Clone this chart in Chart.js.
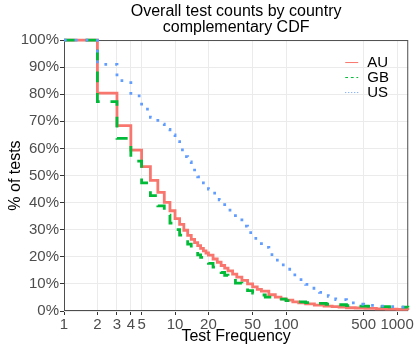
<!DOCTYPE html>
<html>
<head>
<meta charset="utf-8">
<script src="https://cdn.jsdelivr.net/npm/chart.js@4.4.1/dist/chart.umd.min.js"></script>
<style>
  html, body { margin: 0; padding: 0; background: #fff; }
</style>
</head>
<body>
<canvas id="chart" width="415" height="349"></canvas>
<script>
const FONT = '"Liberation Sans", Arial, Helvetica, sans-serif';

const countries = ['AU', 'GB', 'US'];
const xTicks = [1, 2, 3, 4, 5, 10, 20, 50, 100, 500, 1000];

// complementary CDF, % of tests with at least this many test counts
const auFreq = [1, 2, 3, 4, 5, 6, 7, 8, 9, 10, 11, 12, 13, 14, 15, 16, 17, 18, 19, 20, 22, 24, 26, 28, 30, 33, 36, 40, 45, 50, 55, 60, 70, 80, 90, 100, 115, 130, 150, 180, 220, 260, 300, 350, 420, 520, 650, 800, 1000, 1250];
const auPct = [100, 80.4, 68.4, 59.4, 53.3, 48.2, 43.8, 40.1, 37.0, 34.1, 32.0, 29.8, 27.9, 26.4, 25.2, 24.1, 23.1, 22.2, 21.4, 20.6, 19.2, 18.0, 16.8, 15.8, 14.8, 13.6, 12.5, 11.3, 10.0, 8.9, 8.0, 7.3, 6.0, 5.1, 4.5, 4.0, 3.4, 3.0, 2.6, 2.2, 1.8, 1.6, 1.4, 1.2, 1.1, 1.0, 0.8, 0.7, 0.6, 0.4];

const gbFreq = [1, 2, 3, 4, 5, 6, 7, 8, 9, 10, 11, 12, 13, 14, 15, 16, 17, 18, 19, 20, 22, 24, 26, 28, 30, 35, 40, 45, 50, 57, 65, 80, 100, 120, 150, 180, 230, 280, 350, 420, 550, 680, 850, 1030, 1250];
const gbPct = [100, 77.3, 63.7, 55.3, 47.3, 42.6, 38.8, 35.4, 32.4, 30.0, 28.0, 26.5, 24.7, 23.3, 22.0, 20.7, 19.8, 19.0, 18.3, 17.6, 16.2, 15.3, 14.2, 13.2, 12.2, 10.3, 8.6, 7.5, 6.6, 5.9, 5.1, 4.4, 3.8, 3.4, 3.1, 2.8, 2.5, 2.3, 2.0, 1.8, 1.7, 1.6, 1.5, 1.4, 1.3];

const usFreq = [1, 2, 3, 4, 5, 6, 7, 8, 9, 10, 11, 12, 13, 14, 15, 16, 18, 20, 22, 25, 28, 30, 35, 40, 45, 50, 60, 70, 80, 90, 100, 115, 130, 150, 170, 200, 240, 280, 350, 420, 500, 650, 800, 1000, 1250];
const usPct = [100, 91, 85, 79.4, 74.5, 71.5, 69, 67, 65, 62.5, 59.5, 57, 55, 53, 51, 49.5, 47.3, 45, 43.5, 41, 38.7, 37.2, 34.2, 31.3, 28.9, 26.8, 23.5, 20.8, 18.8, 17, 15.4, 13.3, 11.6, 9.8, 8.4, 6.9, 5.4, 4.2, 3.0, 2.5, 2.1, 1.8, 1.6, 1.4, 1.2];

const colors = ['#F8766D', '#00BA38', '#619CFF'];
const lineDashes = [[], [10.8, 10.8], [2.7, 8.1]];
const keyDashes = [[], [2.8, 2.8], [1, 2]];

const toPoints = (xs, ys) => xs.map((x, i) => ({ x, y: ys[i] }));
const series = [toPoints(auFreq, auPct), toPoints(gbFreq, gbPct), toPoints(usFreq, usPct)];

// grey box round the panel, under the lines
const panelBorder = {
  id: 'panelBorder',
  beforeDatasetsDraw(chart) {
    const { ctx, chartArea: a } = chart;
    ctx.save();
    ctx.strokeStyle = '#4D4D4D';
    ctx.lineWidth = 1;
    ctx.strokeRect(a.left + 0.5, a.top + 0.5, a.right - a.left - 1, a.bottom - a.top - 1);
    ctx.restore();
  }
};

// ggplot style legend inside the panel, top right
const insideLegend = {
  id: 'insideLegend',
  afterDatasetsDraw(chart) {
    const { ctx, chartArea: a } = chart;
    ctx.save();
    ctx.font = '15px ' + FONT;
    ctx.textBaseline = 'middle';
    ctx.textAlign = 'left';
    countries.forEach((name, i) => {
      const y = a.top + 22.5 + i * 15;
      ctx.strokeStyle = colors[i];
      ctx.lineWidth = 1;
      ctx.setLineDash(keyDashes[i]);
      ctx.beginPath();
      ctx.moveTo(a.right - 63, y);
      ctx.lineTo(a.right - 50, y);
      ctx.stroke();
      ctx.setLineDash([]);
      ctx.fillStyle = '#000';
      ctx.fillText(name, a.right - 41, y);
    });
    ctx.restore();
  }
};

new Chart(document.getElementById('chart'), {
  type: 'line',
  data: {
    datasets: countries.map((name, i) => ({
      label: name,
      data: series[i],
      borderColor: colors[i],
      borderWidth: 2.8,
      borderDash: lineDashes[i],
      borderCapStyle: 'butt',
      borderJoinStyle: 'miter',
      stepped: 'before',
      pointRadius: 0,
      fill: false,
      clip: 4,
      order: 2 - i
    }))
  },
  options: {
    responsive: false,
    animation: false,
    devicePixelRatio: 1,
    layout: { padding: { top: 0, right: 5, bottom: 0, left: 0 } },
    plugins: {
      legend: { display: false },
      tooltip: { enabled: false },
      title: {
        display: true,
        fullSize: false,
        text: ['Overall test counts by country', 'complementary CDF'],
        color: '#000',
        font: { family: FONT, size: 16, weight: 'normal', lineHeight: 1.02 },
        padding: { top: 3.5, bottom: 3.9 }
      }
    },
    scales: {
      x: {
        type: 'logarithmic',
        min: 1,
        max: 1260,
        afterBuildTicks: axis => { axis.ticks = xTicks.map(v => ({ value: v })); },
        afterFit: axis => { axis.height = 38; },
        ticks: {
          autoSkip: false,
          maxRotation: 0,
          padding: 1,
          color: '#4D4D4D',
          font: { family: FONT, size: 15 },
          callback: v => String(v)
        },
        grid: { color: '#EBEBEB', lineWidth: 1, tickColor: '#333', tickLength: 4 },
        border: { display: false },
        title: {
          display: true,
          text: 'Test Frequency',
          color: '#000',
          font: { family: FONT, size: 16 },
          padding: { top: 0, bottom: 3 }
        }
      },
      y: {
        min: 0,
        max: 100,
        afterFit: axis => { axis.width = 64; },
        ticks: {
          stepSize: 10,
          padding: 1,
          color: '#4D4D4D',
          font: { family: FONT, size: 15 },
          callback: v => v + '%'
        },
        grid: { color: '#EBEBEB', lineWidth: 1, tickColor: '#333', tickLength: 4 },
        border: { display: false },
        title: {
          display: true,
          text: '% of tests',
          color: '#000',
          font: { family: FONT, size: 16 },
          padding: { top: 6, bottom: 0 }
        }
      }
    }
  },
  plugins: [panelBorder, insideLegend]
});
</script>
</body>
</html>
